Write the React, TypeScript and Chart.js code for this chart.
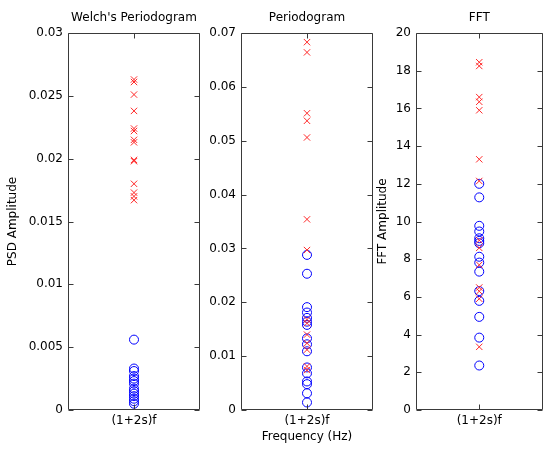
import React, { useEffect, useRef } from 'react';
import { Chart, registerables } from 'chart.js';

Chart.register(...registerables);

const FONT = '"DejaVu Sans", Verdana, sans-serif';
const W = 548;
const H = 449;

const CATEGORY = '(1+2s)f';

// Welch's Periodogram (PSD Amplitude)
const welchCross = [0.0263, 0.0261, 0.0251, 0.0238, 0.0224, 0.0222, 0.0215, 0.0213, 0.0199, 0.0198, 0.018, 0.0173, 0.017, 0.0167];
const welchCircle = [0.0056, 0.0033, 0.0031, 0.0027, 0.0025, 0.0023, 0.0021, 0.0017, 0.0015, 0.0013, 0.0011, 0.0009, 0.0007, 0.0005];

// Periodogram
const periodCross = [0.0683, 0.0664, 0.0551, 0.0537, 0.0506, 0.0354, 0.0297, 0.0168, 0.0161, 0.014, 0.0124, 0.0112, 0.0081, 0.0074];
const periodCircle = [0.0288, 0.0253, 0.0191, 0.0181, 0.0171, 0.0164, 0.0158, 0.0133, 0.0122, 0.0109, 0.0079, 0.0068, 0.0053, 0.0048, 0.0031, 0.0014];

// FFT Amplitude
const fftCross = [18.45, 18.25, 16.6, 16.35, 15.9, 13.3, 12.15, 9.0, 8.6, 7.7, 6.5, 6.3, 5.9, 3.35];
const fftCircle = [12.0, 11.28, 9.77, 9.47, 9.11, 8.97, 8.85, 8.13, 7.82, 7.34, 6.31, 5.79, 4.94, 3.84, 2.36];

const titles = ["Welch's Periodogram", 'Periodogram', 'FFT'];
const yTitles = ['PSD Amplitude', '', 'FFT Amplitude'];
const xTitles = ['', 'Frequency (Hz)', ''];
const yMax = [0.03, 0.07, 20];
const yStep = [0.005, 0.01, 2];

const panels = [
  { cross: welchCross, circle: welchCircle, left: 68, right: 200, yTitleX: 13 },
  { cross: periodCross, circle: periodCircle, left: 241, right: 373, yTitleX: 0 },
  { cross: fftCross, circle: fftCircle, left: 416, right: 546, yTitleX: 383 },
];

const PLOT_TOP = 33;
const PLOT_BOTTOM = 410;
const Y_AXIS_W = 50;
const X_AXIS_H = 24;
const AXIS_COLOR = '#3a3a3a';

const framePlugin = {
  id: 'matlabFrame',
  afterDatasetsDraw(chart: any) {
    const { ctx, chartArea } = chart;
    const l = Math.round(chartArea.left) + 0.5;
    const r = Math.round(chartArea.right) - 0.5;
    const t = Math.round(chartArea.top) + 0.5;
    const b = Math.round(chartArea.bottom) - 0.5;
    ctx.save();
    ctx.strokeStyle = AXIS_COLOR;
    ctx.lineWidth = 1;
    ctx.beginPath();
    ctx.rect(l, t, r - l, b - t);
    const ys = chart.scales.y;
    const tl = 5;
    ys.ticks.forEach((tk: any) => {
      const py = Math.round(ys.getPixelForValue(tk.value)) + 0.5;
      ctx.moveTo(l, py);
      ctx.lineTo(l + tl, py);
      ctx.moveTo(r, py);
      ctx.lineTo(r - tl, py);
    });
    const xs = chart.scales.x;
    const px = Math.round(xs.getPixelForValue(0)) + 0.5;
    ctx.moveTo(px, b);
    ctx.lineTo(px, b - tl);
    ctx.moveTo(px, t);
    ctx.lineTo(px, t + tl);
    ctx.stroke();
    ctx.restore();
  },
  afterDraw(chart: any, _args: any, opts: any) {
    const { ctx, chartArea } = chart;
    const cx = (chartArea.left + chartArea.right) / 2;
    ctx.save();
    ctx.fillStyle = '#000';
    ctx.font = `12px ${FONT}`;
    ctx.textAlign = 'center';
    ctx.textBaseline = 'middle';
    if (opts.title) ctx.fillText(opts.title, cx, 18);
    if (opts.xTitle) ctx.fillText(opts.xTitle, cx, 437);
    if (opts.yTitle) {
      ctx.translate(opts.yTitleX, (chartArea.top + chartArea.bottom) / 2);
      ctx.rotate(-Math.PI / 2);
      ctx.fillText(opts.yTitle, 0, 0);
    }
    ctx.restore();
  },
};

function fmt(v: number) {
  return parseFloat(Number(v).toFixed(4)).toString();
}

export default function App() {
  const refs = [useRef<HTMLCanvasElement>(null), useRef<HTMLCanvasElement>(null), useRef<HTMLCanvasElement>(null)];

  useEffect(() => {
    const charts: Chart[] = [];
    panels.forEach((p, i) => {
      const canvas = refs[i].current;
      if (!canvas) return;
      const chart = new Chart(canvas, {
        type: 'scatter',
        data: {
          labels: [CATEGORY],
          datasets: [
            {
              data: p.cross.map((v) => ({ x: CATEGORY, y: v })) as any,
              pointStyle: 'crossRot',
              pointRadius: 4.5,
              borderColor: '#ff2a2a',
              backgroundColor: '#ff2a2a',
              borderWidth: 1,
              showLine: false,
            },
            {
              data: p.circle.map((v) => ({ x: CATEGORY, y: v })) as any,
              pointStyle: 'circle',
              pointRadius: 4.5,
              borderColor: '#0000ff',
              backgroundColor: 'rgba(0,0,0,0)',
              borderWidth: 1,
              showLine: false,
            },
          ],
        },
        options: {
          responsive: false,
          animation: false,
          events: [],
          layout: {
            padding: {
              left: p.left - Y_AXIS_W,
              right: W - p.right,
              top: PLOT_TOP,
              bottom: H - PLOT_BOTTOM - X_AXIS_H,
            },
          },
          plugins: {
            legend: { display: false },
            tooltip: { enabled: false },
            title: { display: false },
            matlabFrame: {
              title: titles[i],
              yTitle: yTitles[i],
              xTitle: xTitles[i],
              yTitleX: p.yTitleX,
            },
          } as any,
          scales: {
            x: {
              type: 'category',
              labels: [CATEGORY],
              offset: true,
              grid: { display: false, drawTicks: false },
              border: { display: false },
              ticks: { color: '#000', font: { size: 12, family: FONT }, padding: 4, maxRotation: 0 },
              afterFit: (s: any) => {
                s.height = X_AXIS_H;
              },
            } as any,
            y: {
              type: 'linear',
              min: 0,
              max: yMax[i],
              grid: { display: false, drawTicks: false },
              border: { display: false },
              ticks: {
                stepSize: yStep[i],
                color: '#000',
                font: { size: 12, family: FONT },
                padding: 5,
                callback: (v: any) => fmt(v),
              },
              afterFit: (s: any) => {
                s.width = Y_AXIS_W;
              },
            } as any,
          },
        },
        plugins: [framePlugin],
      });
      charts.push(chart);
    });
    return () => charts.forEach((c) => c.destroy());
  }, []);

  return (
    <div style={{ position: 'fixed', left: 0, top: 0, width: W, height: H, background: '#fff' }}>
      {refs.map((r, i) => (
        <canvas
          key={i}
          ref={r}
          width={W}
          height={H}
          style={{ position: 'absolute', left: 0, top: 0, width: W, height: H }}
        />
      ))}
    </div>
  );
}
